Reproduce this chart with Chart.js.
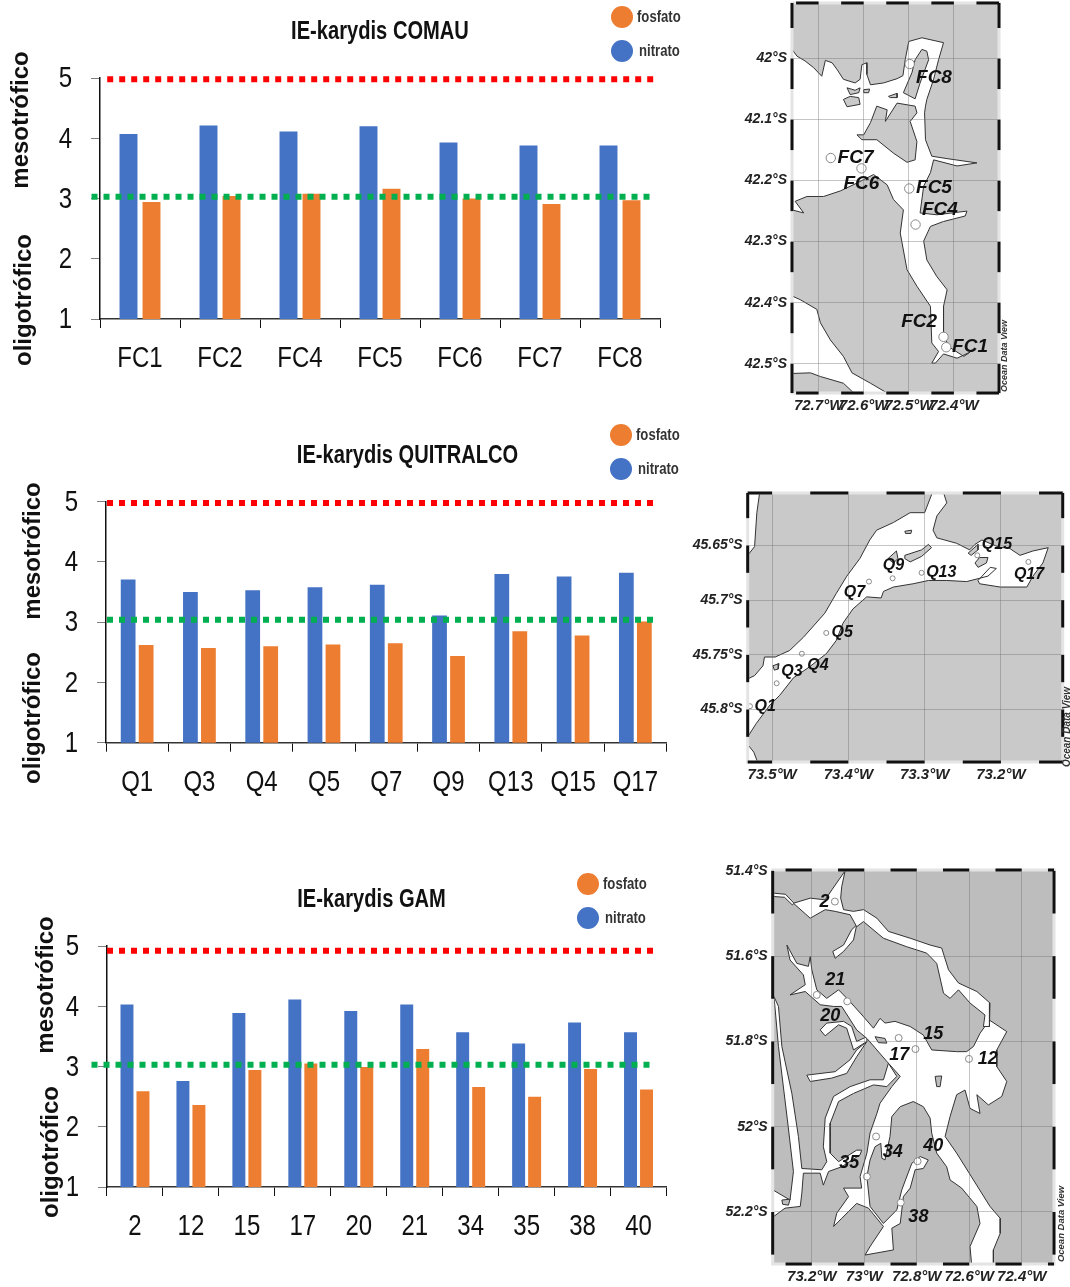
<!DOCTYPE html>
<html>
<head>
<meta charset="utf-8" />
<title>IE-karydis</title>
<script src="https://cdn.jsdelivr.net/npm/chart.js@4"></script>
<style>
  html, body { margin: 0; background: #fff; }
  body { position: relative; width: 1070px; height: 1287px; overflow: hidden; }
  canvas { position: absolute; }
</style>
</head>
<body>
<canvas id="comau" width="760" height="400" style="left:0;top:0"></canvas>
<canvas id="quitralco" width="815" height="380" style="left:0;top:420px"></canvas>
<canvas id="gam" width="743" height="420" style="left:0;top:860px"></canvas>
<canvas id="mapComau" width="345" height="435" style="left:725px;top:-15px"></canvas>
<canvas id="mapQuitralco" width="390" height="310" style="left:680px;top:475px"></canvas>
<canvas id="mapGam" width="365" height="437" style="left:705px;top:850px"></canvas>

<script>
// bar values
const comauLabels = ["FC1", "FC2", "FC4", "FC5", "FC6", "FC7", "FC8"];
const comauNitrato = [4.07, 4.21, 4.11, 4.20, 3.93, 3.88, 3.88];
const comauFosfato = [2.94, 3.04, 3.08, 3.16, 3.00, 2.91, 2.97];
const comauLimits = [4.98, 3.03];

const quitralcoLabels = ["Q1", "Q3", "Q4", "Q5", "Q7", "Q9", "Q13", "Q15", "Q17"];
const quitralcoNitrato = [3.71, 3.50, 3.53, 3.58, 3.62, 3.11, 3.80, 3.76, 3.82];
const quitralcoFosfato = [2.62, 2.57, 2.60, 2.63, 2.65, 2.44, 2.85, 2.78, 3.01];
const quitralcoLimits = [4.98, 3.04];

const gamLabels = ["2", "12", "15", "17", "20", "21", "34", "35", "38", "40"];
const gamNitrato = [4.03, 2.76, 3.89, 4.11, 3.92, 4.03, 3.57, 3.38, 3.73, 3.57];
const gamFosfato = [2.59, 2.36, 2.94, 3.05, 2.99, 3.29, 2.66, 2.50, 2.96, 2.62];
const gamLimits = [4.92, 3.03];

const yTicks = [1, 2, 3, 4, 5];

// maps: [degrees west, degrees south]
const comauLonTicks = [72.7, 72.6, 72.5, 72.4];
const comauLatTicks = [42, 42.1, 42.2, 42.3, 42.4, 42.5];
const comauWater = [[72.759,41.985],[72.748,41.996],[72.730,42.004],[72.711,42.015],[72.693,42.029],[72.685,42.003],[72.670,42.007],[72.659,42.018],[72.645,42.034],[72.619,42.040],[72.608,42.034],[72.604,42.010],[72.593,42.007],[72.593,42.026],[72.585,42.043],[72.556,42.040],[72.526,42.033],[72.513,42.028],[72.508,42.002],[72.500,41.972],[72.471,41.966],[72.423,41.974],[72.434,42.002],[72.445,42.034],[72.460,42.067],[72.463,42.078],[72.465,42.089],[72.463,42.133],[72.449,42.160],[72.415,42.164],[72.349,42.171],[72.393,42.176],[72.445,42.166],[72.452,42.187],[72.467,42.209],[72.475,42.253],[72.438,42.256],[72.371,42.250],[72.375,42.258],[72.423,42.267],[72.452,42.275],[72.467,42.299],[72.460,42.330],[72.438,42.357],[72.415,42.379],[72.423,42.406],[72.423,42.450],[72.412,42.472],[72.378,42.488],[72.364,42.481],[72.393,42.491],[72.423,42.484],[72.441,42.499],[72.449,42.499],[72.434,42.480],[72.449,42.466],[72.452,42.406],[72.482,42.373],[72.504,42.346],[72.519,42.286],[72.512,42.248],[72.534,42.231],[72.548,42.207],[72.578,42.190],[72.615,42.204],[72.652,42.217],[72.689,42.226],[72.726,42.226],[72.752,42.234],[72.733,42.253],[72.759,42.248]];
const comauSouthWater = [[72.759,42.389],[72.741,42.395],[72.704,42.411],[72.696,42.433],[72.674,42.461],[72.645,42.488],[72.626,42.515],[72.585,42.532],[72.548,42.548],[72.622,42.548],[72.645,42.532],[72.696,42.521],[72.718,42.515],[72.759,42.516]];
const comauIslands = [
  [[72.571,42.078],[72.548,42.084],[72.552,42.103],[72.526,42.073],[72.486,42.078],[72.482,42.089],[72.497,42.103],[72.482,42.136],[72.486,42.166],[72.504,42.170],[72.534,42.155],[72.571,42.133],[72.604,42.133],[72.615,42.125],[72.600,42.125],[72.585,42.105]],
  [[72.471,41.985],[72.460,41.988],[72.456,42.002],[72.475,42.040],[72.486,42.066],[72.512,42.056],[72.493,42.023],[72.486,42.002]],
  [[72.645,42.067],[72.630,42.062],[72.611,42.064],[72.608,42.075],[72.637,42.079]],
  [[72.637,42.048],[72.619,42.052],[72.608,42.048],[72.611,42.056],[72.630,42.059]],
  [[72.545,42.062],[72.526,42.057],[72.526,42.064],[72.541,42.064]],
  [[72.600,42.051],[72.587,42.050],[72.589,42.056],[72.600,42.056]]
];
const comauStations = [[72.417,42.473],[72.423,42.456],[72.485,42.272],[72.499,42.213],[72.605,42.180],[72.673,42.163],[72.498,42.009]];
const comauStationNames = ["FC1", "FC2", "FC4", "FC5", "FC6", "FC7", "FC8"];
const comauNameAt = [[72.404,42.472],[72.517,42.432],[72.471,42.248],[72.484,42.212],[72.645,42.205],[72.658,42.163],[72.484,42.032]];

const quitralcoLonTicks = [73.5, 73.4, 73.3, 73.2];
const quitralcoLatTicks = [45.65, 45.7, 45.75, 45.8];
const quitralcoWater = [[73.532,45.825],[73.521,45.813],[73.503,45.796],[73.490,45.787],[73.472,45.771],[73.451,45.761],[73.429,45.749],[73.416,45.737],[73.407,45.721],[73.394,45.708],[73.376,45.697],[73.357,45.698],[73.354,45.692],[73.341,45.688],[73.315,45.685],[73.295,45.682],[73.271,45.682],[73.245,45.683],[73.228,45.680],[73.217,45.678],[73.206,45.671],[73.214,45.670],[73.230,45.682],[73.228,45.685],[73.201,45.688],[73.166,45.688],[73.158,45.678],[73.145,45.666],[73.138,45.652],[73.158,45.655],[73.175,45.659],[73.190,45.652],[73.201,45.652],[73.225,45.645],[73.234,45.649],[73.241,45.654],[73.258,45.648],[73.284,45.643],[73.289,45.636],[73.284,45.623],[73.271,45.611],[73.276,45.600],[73.289,45.600],[73.300,45.620],[73.319,45.620],[73.341,45.629],[73.363,45.636],[73.372,45.645],[73.385,45.662],[73.402,45.678],[73.416,45.694],[73.431,45.712],[73.459,45.734],[73.477,45.746],[73.496,45.752],[73.510,45.752],[73.512,45.760],[73.523,45.769],[73.532,45.772]];
const quitralcoNorthWest = [[73.532,45.600],[73.516,45.600],[73.520,45.620],[73.523,45.651],[73.532,45.659]];
const quitralcoSouthWest = [[73.532,45.832],[73.524,45.839],[73.518,45.850],[73.532,45.850]];
const quitralcoIslands = [
  [[73.326,45.659],[73.304,45.654],[73.295,45.649],[73.291,45.652],[73.304,45.660],[73.319,45.665],[73.326,45.662]],
  [[73.348,45.662],[73.337,45.655],[73.335,45.662],[73.341,45.666]],
  [[73.234,45.666],[73.228,45.661],[73.217,45.661],[73.219,45.666],[73.230,45.670]],
  [[73.243,45.657],[73.230,45.649],[73.230,45.654],[73.239,45.659]],
  [[73.326,45.637],[73.317,45.636],[73.318,45.639],[73.325,45.639]],
  [[73.499,45.760],[73.491,45.758],[73.492,45.763],[73.497,45.764]]
];
const quitralcoStations = [[73.529,45.797],[73.494,45.776],[73.461,45.749],[73.429,45.730],[73.373,45.683],[73.342,45.680],[73.304,45.675],[73.231,45.659],[73.164,45.665]];
const quitralcoStationNames = ["Q1", "Q3", "Q4", "Q5", "Q7", "Q9", "Q13", "Q15", "Q17"];
const quitralcoNameAt = [[73.523,45.797],[73.488,45.765],[73.454,45.760],[73.422,45.730],[73.406,45.693],[73.355,45.668],[73.298,45.675],[73.225,45.649],[73.183,45.677]];

const gamLonTicks = [73.2, 73, 72.8, 72.6, 72.4];
const gamLatTicks = [51.4, 51.6, 51.8, 52, 52.2];
const gamNorth = [[73.270,51.476],[73.206,51.464],[73.149,51.468],[73.124,51.445],[73.073,51.400],[73.086,51.437],[73.090,51.464],[73.079,51.491],[73.041,51.495],[73.003,51.491],[72.952,51.511],[72.908,51.542],[72.825,51.558],[72.749,51.574],[72.705,51.581],[72.679,51.632],[72.641,51.663],[72.571,51.683],[72.521,51.710],[72.523,51.765],[72.546,51.765],[72.540,51.738],[72.597,51.710],[72.641,51.679],[72.673,51.699],[72.698,51.687],[72.724,51.617],[72.762,51.593],[72.838,51.578],[72.927,51.558],[73.003,51.519],[73.029,51.531],[73.054,51.503],[73.111,51.495],[73.149,51.491],[73.206,51.511]];
const gamNorthWest = [[73.349,51.452],[73.300,51.455],[73.268,51.476],[73.274,51.480],[73.304,51.462],[73.349,51.460]];
const gamBranch = [[73.029,51.527],[73.041,51.562],[73.079,51.589],[73.111,51.605],[73.120,51.589],[73.079,51.574],[73.048,51.538]];
const gamBasin = [[72.523,51.750],[72.457,51.777],[72.495,51.820],[72.495,51.859],[72.457,51.894],[72.476,51.929],[72.527,51.949],[72.571,51.925],[72.559,51.969],[72.597,51.957],[72.616,51.914],[72.648,51.925],[72.673,51.976],[72.692,52.023],[72.648,52.062],[72.584,52.125],[72.521,52.187],[72.482,52.215],[72.482,52.250],[72.508,52.289],[72.508,52.330],[72.590,52.330],[72.597,52.281],[72.559,52.227],[72.571,52.187],[72.629,52.144],[72.654,52.133],[72.673,52.125],[72.686,52.094],[72.724,52.062],[72.743,52.015],[72.749,51.980],[72.775,51.953],[72.813,51.941],[72.863,51.953],[72.895,51.976],[72.902,52.023],[72.921,52.078],[72.933,52.074],[72.937,52.039],[72.959,52.047],[72.978,52.078],[72.990,52.117],[72.978,52.187],[72.927,52.227],[72.876,52.195],[72.857,52.148],[72.819,52.086],[72.787,52.070],[72.756,52.078],[72.775,52.098],[72.806,52.101],[72.825,52.144],[72.851,52.164],[72.863,52.227],[72.895,52.238],[72.889,52.289],[72.997,52.301],[72.978,52.281],[72.927,52.234],[72.984,52.191],[73.029,52.180],[73.086,52.215],[73.117,52.234],[73.105,52.203],[73.060,52.164],[73.079,52.144],[73.010,52.144],[73.016,52.117],[72.990,52.062],[72.978,52.015],[72.952,51.969],[72.940,51.945],[72.895,51.906],[72.863,51.882],[72.914,51.847],[72.952,51.820],[72.990,51.793],[73.029,51.773],[73.086,51.718],[73.117,51.718],[73.168,51.714],[73.225,51.683],[73.283,51.691],[73.225,51.667],[73.232,51.644],[73.283,51.609],[73.295,51.574],[73.257,51.617],[73.213,51.624],[73.206,51.601],[73.200,51.632],[73.181,51.679],[73.143,51.699],[73.098,51.679],[73.060,51.703],[73.003,51.742],[72.965,51.769],[72.940,51.746],[72.921,51.757],[72.883,51.753],[72.825,51.765],[72.775,51.785],[72.743,51.820],[72.648,51.824],[72.610,51.824],[72.584,51.812],[72.559,51.781]];
const gamArm20 = [[72.990,51.789],[73.029,51.800],[73.048,51.765],[73.079,51.753],[73.143,51.757],[73.168,51.773],[73.149,51.787],[73.098,51.761],[73.067,51.769],[73.041,51.820],[72.990,51.800]];
const gamArmSouth = [[73.029,51.820],[73.054,51.843],[73.111,51.871],[73.219,51.879],[73.206,51.894],[73.124,51.886],[73.067,51.875],[73.029,51.836],[72.990,51.800]];
const gamWest = [[73.344,51.695],[73.327,51.718],[73.314,51.812],[73.276,51.922],[73.251,52.023],[73.238,52.098],[73.162,52.101],[73.143,52.082],[73.156,52.047],[73.149,51.980],[73.117,51.929],[73.054,51.906],[72.978,51.890],[72.927,51.890],[72.908,51.851],[72.876,51.882],[72.914,51.906],[72.965,51.902],[73.041,51.922],[73.098,51.941],[73.130,51.992],[73.130,52.062],[73.098,52.082],[73.029,52.055],[73.010,52.055],[73.016,52.066],[73.086,52.094],[73.136,52.105],[73.156,52.137],[73.168,52.109],[73.232,52.109],[73.238,52.156],[73.244,52.187],[73.302,52.191],[73.346,52.211],[73.349,52.148],[73.283,52.172],[73.270,52.105],[73.293,51.984],[73.327,51.812]];
const gamIslands = [
  [[72.730,51.882],[72.705,51.881],[72.711,51.906],[72.724,51.906]],
  [[72.959,51.789],[72.921,51.793],[72.914,51.804],[72.946,51.803]],
  [[73.314,52.172],[73.283,52.170],[73.289,52.184],[73.311,52.182]]
];
const gamStations = [[73.112,51.472],[72.601,51.841],[72.869,51.792],[72.805,51.818],[73.065,51.706],[73.181,51.691],[72.955,52.023],[72.990,52.117],[72.861,52.178],[72.797,52.081]];
const gamStationNames = ["2", "12", "15", "17", "20", "21", "34", "35", "38", "40"];
const gamNameAt = [[73.171,51.474],[72.568,51.841],[72.775,51.783],[72.905,51.832],[73.168,51.740],[73.149,51.656],[72.930,52.059],[73.095,52.085],[72.832,52.211],[72.775,52.045]];

const SANS = "'Liberation Sans', Arial, sans-serif";
Chart.defaults.animation = false;
Chart.defaults.responsive = false;

// no narrow font installed, the labels of the picture are squeezed Arial
function squeezed(ctx, text, x, y, font, align, factor) {
  ctx.save();
  ctx.translate(x, y);
  ctx.scale(factor, 1);
  ctx.font = font;
  ctx.textAlign = align;
  ctx.textBaseline = "middle";
  ctx.fillText(text, 0, 0);
  ctx.restore();
}

// dotted limits, axis numbers, title, vertical words, fosfato / nitrato circles
const barExtras = {
  id: "barExtras",
  afterDatasetsDraw(chart, args, opts) {
    const ctx = chart.ctx, sx = chart.scales.x, sy = chart.scales.y;
    ctx.save();
    ctx.lineWidth = 6;
    ctx.setLineDash([6, 6]);
    opts.limits.forEach(l => {
      const y = sy.getPixelForValue(l.value);
      ctx.strokeStyle = l.color;
      ctx.beginPath();
      ctx.moveTo(sx.getPixelForValue(l.from), y);
      ctx.lineTo(sx.getPixelForValue(l.to), y);
      ctx.stroke();
    });
    ctx.restore();
  },
  afterDraw(chart, args, opts) {
    const ctx = chart.ctx, sx = chart.scales.x, sy = chart.scales.y;
    ctx.save();
    ctx.fillStyle = "#111";
    chart.data.labels.forEach((name, i) => {
      squeezed(ctx, name, sx.getPixelForValue(i), sy.bottom + 40, "30px " + SANS, "center", 0.8);
    });
    yTicks.forEach(v => {
      squeezed(ctx, String(v), sx.left - 28, sy.getPixelForValue(v) + 1, "30px " + SANS, "right", 0.8);
    });
    squeezed(ctx, opts.title, opts.titleX, opts.titleY, "bold 25px " + SANS, "center", 0.805);
    ctx.font = "bold 24px " + SANS;
    ctx.textAlign = "center";
    ctx.textBaseline = "middle";
    opts.words.forEach(w => {
      ctx.save();
      ctx.translate(w.x, w.y);
      ctx.rotate(-Math.PI / 2);
      ctx.fillText(w.text, 0, 0);
      ctx.restore();
    });
    // fosfato on top, nitrato under it
    [chart.data.datasets[1], chart.data.datasets[0]].forEach((d, i) => {
      const y = opts.legendY + i * 34;
      ctx.fillStyle = d.backgroundColor;
      ctx.beginPath();
      ctx.arc(opts.legendX, y, 11, 0, Math.PI * 2);
      ctx.fill();
      ctx.fillStyle = "#333";
      squeezed(ctx, d.label, opts.legendX + 15 + i * 2, y + 1, "bold 16px " + SANS, "left", 0.82);
    });
    ctx.restore();
  }
};

function barChart(id, title, labels, nitrato, fosfato, limits, o) {
  new Chart(document.getElementById(id), {
    type: "bar",
    data: {
      labels: labels,
      datasets: [
        { label: "nitrato", data: nitrato, backgroundColor: "#4472c4",
          categoryPercentage: o.catPct, barPercentage: o.barPct },
        { label: "fosfato", data: fosfato, backgroundColor: "#ed7d31",
          categoryPercentage: o.catPct, barPercentage: o.barPct }
      ]
    },
    options: {
      layout: { padding: { top: o.top, right: o.right } },
      plugins: {
        legend: { display: false },
        tooltip: { enabled: false },
        barExtras: {
          title: title, titleX: o.titleX, titleY: o.titleY,
          words: o.words, legendX: o.legendX, legendY: o.legendY,
          limits: [
            { value: limits[0], color: "#ff0000", from: o.red[0], to: o.red[1] },
            { value: limits[1], color: "#00b050", from: o.green[0], to: o.green[1] }
          ]
        }
      },
      scales: {
        x: {
          offset: true,
          afterFit: s => { s.height = o.axisBottom; },
          grid: { offset: true, drawOnChartArea: false, tickLength: 9, color: "#111" },
          border: { color: "#333", width: 1.5 },
          ticks: { display: false, autoSkip: false }
        },
        y: {
          min: 1, max: 5,
          afterFit: s => { s.width = o.axisLeft; },
          afterBuildTicks: s => { s.ticks = yTicks.map(v => ({ value: v })); },
          grid: { drawOnChartArea: false, tickLength: 9, color: "#808080" },
          border: { color: "#111", width: 1.5 },
          ticks: { display: false }
        }
      }
    },
    plugins: [barExtras]
  });
}

barChart("comau", "IE-karydis COMAU", comauLabels, comauNitrato, comauFosfato, comauLimits, {
  catPct: 0.575, barPct: 0.78, top: 78, right: 100, axisLeft: 100, axisBottom: 81,
  titleX: 380, titleY: 32.5,
  red: [-0.41, 6.43], green: [-0.606, 6.375],
  legendX: 622, legendY: 17,
  words: [{ text: "mesotrófico", x: 21, y: 120 }, { text: "oligotrófico", x: 24, y: 300 }]
});
barChart("quitralco", "IE-karydis QUITRALCO", quitralcoLabels, quitralcoNitrato, quitralcoFosfato, quitralcoLimits, {
  catPct: 0.578, barPct: 0.82, top: 81.7, right: 148.5, axisLeft: 106, axisBottom: 57.3,
  titleX: 407.5, titleY: 36.5,
  red: [-0.484, 8.296], green: [-0.484, 8.296],
  legendX: 621, legendY: 15,
  words: [{ text: "mesotrófico", x: 33, y: 131 }, { text: "oligotrófico", x: 33, y: 298 }]
});
barChart("gam", "IE-karydis GAM", gamLabels, gamNitrato, gamFosfato, gamLimits, {
  catPct: 0.572, barPct: 0.81, top: 86, right: 76.5, axisLeft: 107, axisBottom: 93,
  titleX: 371.5, titleY: 40.5,
  red: [-0.5, 9.277], green: [-0.777, 9.205],
  legendX: 588, legendY: 24,
  words: [{ text: "mesotrófico", x: 46, y: 125 }, { text: "oligotrófico", x: 51, y: 292 }]
});

// land colour under the water, frame, station names and the ODV mark on top
const mapExtras = {
  id: "mapExtras",
  beforeDraw(chart, args, opts) {
    const a = chart.chartArea;
    chart.ctx.fillStyle = opts.land;
    chart.ctx.fillRect(a.left, a.top, a.right - a.left, a.bottom - a.top);
  },
  afterDraw(chart, args, opts) {
    const ctx = chart.ctx, a = chart.chartArea, sx = chart.scales.x, sy = chart.scales.y;
    ctx.save();
    ctx.strokeStyle = "#e4e4e4";
    ctx.lineWidth = 3;
    ctx.strokeRect(a.left, a.top, a.right - a.left, a.bottom - a.top);
    ctx.strokeStyle = "#111";
    const half = opts.lonStep / 2;
    for (let v = opts.lonTicks[0] + opts.lonStep * 2; v > sx.min - opts.lonStep; v -= opts.lonStep) {
      const x1 = Math.max(sx.getPixelForValue(v + half), a.left), x2 = Math.min(sx.getPixelForValue(v), a.right);
      if (x2 <= x1) continue;
      [a.top, a.bottom].forEach(y => {
        ctx.beginPath(); ctx.moveTo(x1, y); ctx.lineTo(x2, y); ctx.stroke();
      });
    }
    const halfY = opts.latStep / 2;
    for (let v = opts.latTicks[0] - opts.latStep * 2; v < sy.max + opts.latStep; v += opts.latStep) {
      const y1 = Math.max(sy.getPixelForValue(v), a.top), y2 = Math.min(sy.getPixelForValue(v + halfY), a.bottom);
      if (y2 <= y1) continue;
      [a.left, a.right].forEach(x => {
        ctx.beginPath(); ctx.moveTo(x, y1); ctx.lineTo(x, y2); ctx.stroke();
      });
    }
    ctx.fillStyle = "#111";
    ctx.font = "italic bold " + opts.nameSize + "px " + SANS;
    ctx.textAlign = "left";
    ctx.textBaseline = "middle";
    opts.names.forEach((name, i) => {
      ctx.fillText(name, sx.getPixelForValue(opts.nameAt[i][0]), sy.getPixelForValue(opts.nameAt[i][1]));
    });
    ctx.save();
    ctx.translate(opts.odv.x, opts.odv.y);
    ctx.rotate(-Math.PI / 2);
    ctx.font = "italic bold " + opts.odv.size + "px " + SANS;
    ctx.textAlign = "center";
    ctx.fillStyle = "#333";
    ctx.fillText("Ocean Data View", 0, 0);
    ctx.restore();
    ctx.restore();
  }
};

function toPoints(list) {
  return list.map(p => ({ x: p[0], y: p[1] }));
}

function shape(list, color, order) {
  return { data: toPoints(list.concat([list[0]])), showLine: true, fill: "shape", order: order,
           backgroundColor: color, borderColor: "#333", borderWidth: 1, pointRadius: 0, tension: 0 };
}

function mapChart(id, water, islands, stations, o) {
  const datasets = water.map(w => shape(w, "#ffffff", 3))
    .concat(islands.map(w => shape(w, o.land, 2)));
  datasets.push({ data: toPoints(stations), order: 1, pointRadius: o.radius, pointBorderWidth: 1,
                  pointBackgroundColor: "#ffffff", pointBorderColor: "#8a8a8a" });
  new Chart(document.getElementById(id), {
    type: "scatter",
    data: { datasets: datasets },
    options: {
      layout: { padding: { top: o.top, right: o.right } },
      plugins: {
        legend: { display: false },
        tooltip: { enabled: false },
        mapExtras: { land: o.land, lonTicks: o.lonTicks, latTicks: o.latTicks, lonStep: o.lonStep, latStep: o.latStep,
                     names: o.names, nameAt: o.nameAt, nameSize: o.nameSize, odv: o.odv }
      },
      scales: {
        x: {
          reverse: true, min: o.lon[1], max: o.lon[0],
          afterFit: s => { s.height = o.bottom; },
          afterBuildTicks: s => { s.ticks = o.lonTicks.map(v => ({ value: v })); },
          grid: { z: 1, drawTicks: false, color: "rgba(110,110,110,0.4)" },
          border: { display: false },
          ticks: { autoSkip: false, maxRotation: 0, padding: 4, color: "#222",
                   font: { family: SANS, style: "italic", weight: "bold", size: 15 },
                   callback: v => v + "°W" }
        },
        y: {
          reverse: true, min: o.lat[0], max: o.lat[1],
          afterFit: s => { s.width = o.left; },
          afterBuildTicks: s => { s.ticks = o.latTicks.map(v => ({ value: v })); },
          grid: { z: 1, drawTicks: false, color: "rgba(110,110,110,0.4)" },
          border: { display: false },
          ticks: { autoSkip: false, padding: 5, color: "#222",
                   font: { family: SANS, style: "italic", weight: "bold", size: 14 },
                   callback: v => v + "°S" }
        }
      }
    },
    plugins: [mapExtras]
  });
}

mapChart("mapComau", [comauWater, comauSouthWater], comauIslands, comauStations, {
  land: "#c9c9c9", radius: 4.7, left: 67, right: 71, top: 18, bottom: 27,
  lon: [72.759, 72.300], lat: [41.909, 42.548], lonStep: 0.1, latStep: 0.1,
  lonTicks: comauLonTicks, latTicks: comauLatTicks,
  names: comauStationNames, nameAt: comauNameAt, nameSize: 19,
  odv: { x: 280, y: 371, size: 9 }
});
mapChart("mapQuitralco", [quitralcoWater, quitralcoNorthWest, quitralcoSouthWest], quitralcoIslands, quitralcoStations, {
  land: "#c9c9c9", radius: 2.5, left: 67.7, right: 7.3, top: 18, bottom: 23,
  lon: [73.532, 73.119], lat: [45.602, 45.848], lonStep: 0.1, latStep: 0.05,
  lonTicks: quitralcoLonTicks, latTicks: quitralcoLatTicks,
  names: quitralcoStationNames, nameAt: quitralcoNameAt, nameSize: 16,
  odv: { x: 387, y: 252, size: 10 }
});
mapChart("mapGam", [gamNorth, gamNorthWest, gamBranch, gamBasin, gamArm20, gamArmSouth, gamWest], gamIslands, gamStations, {
  land: "#bdbdbd", radius: 3.5, left: 67.7, right: 16, top: 20, bottom: 23,
  lon: [73.349, 72.277], lat: [51.398, 52.322], lonStep: 0.2, latStep: 0.2,
  lonTicks: gamLonTicks, latTicks: gamLatTicks,
  names: gamStationNames, nameAt: gamNameAt, nameSize: 18,
  odv: { x: 356, y: 374, size: 9.5 }
});
</script>
</body>
</html>
